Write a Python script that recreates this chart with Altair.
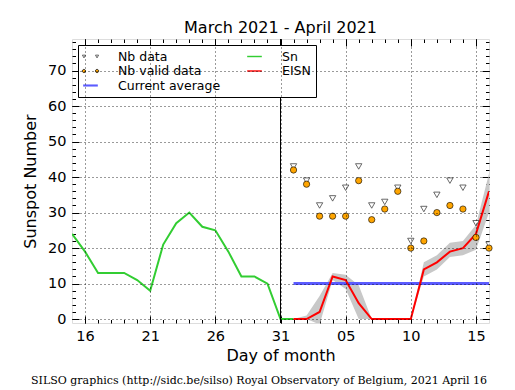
import altair as alt
import pandas as pd

# ---------------- data ----------------
sn_dates = ["2021-03-15", "2021-03-16", "2021-03-17", "2021-03-18", "2021-03-19",
            "2021-03-20", "2021-03-21", "2021-03-22", "2021-03-23", "2021-03-24",
            "2021-03-25", "2021-03-26", "2021-03-27", "2021-03-28", "2021-03-29",
            "2021-03-30", "2021-03-31", "2021-04-01"]
sn_values = [24, 19, 13, 13, 13, 11, 8, 21, 27, 30, 26, 25, 19, 12, 12, 10, 0, 0]

apr_dates = ["2021-04-01", "2021-04-02", "2021-04-03", "2021-04-04", "2021-04-05",
             "2021-04-06", "2021-04-07", "2021-04-08", "2021-04-09", "2021-04-10",
             "2021-04-11", "2021-04-12", "2021-04-13", "2021-04-14", "2021-04-15",
             "2021-04-16"]
eisn_values = [0, 0, 2, 12, 11, 4.5, 0, 0, 0, 0, 14, 16, 19, 20, 24, 36]
eisn_low = [0, 0, -1.5, 11, 8.5, 0, 0, 0, 0, 0, 12, 14, 17.5, 18, 19.5, 30]
eisn_high = [0, 1, 6.5, 13, 12.5, 9.5, 0, 0, 0, 0, 16, 18, 21.5, 22, 26.5, 41]
nb_data = [43, 39, 32, 34, 37, 43, 32, 33, 37, 22, 31, 35, 39, 37, 27, 21]
nb_valid = [42, 38, 29, 29, 29, 39, 28, 31, 36, 20, 22, 30, 32, 31, 23, 20]

avg_dates = ["2021-04-01", "2021-04-16"]
avg_values = [10, 10]

last_obs = ["2021-03-31"]

x_major = [16, 21, 26, 31, 36, 41, 46]
x_minor = list(range(16, 47))
y_major = [0, 10, 20, 30, 40, 50, 60, 70]
y_minor = list(range(0, 79, 2))

# legend entries (filled column by column, 3 rows)
legend_order = ["Nb data", "Nb valid data", "Current average", "Sn", "EISN"]

C_SN = "#32cd32"
C_EISN = "#ff0000"
C_AVG = "#5b5bff"
C_VALID = "orange"
C_TRI = "#444444"

title_text = "March 2021 - April 2021"
footer_text = "SILSO graphics (http://sidc.be/silso) Royal Observatory of Belgium, 2021 April 16"


def day(d):
    return (pd.Timestamp(d) - pd.Timestamp("2021-02-28")).days


sn_df = pd.DataFrame({"day": [day(d) for d in sn_dates], "value": sn_values})
apr_df = pd.DataFrame({
    "day": [day(d) for d in apr_dates],
    "eisn": eisn_values, "lo": eisn_low, "hi": eisn_high,
    "nb": nb_data, "nbv": nb_valid,
})
avg_df = pd.DataFrame({"day": [day(d) for d in avg_dates], "value": avg_values})
obs_df = pd.DataFrame({"day": [day(d) for d in last_obs]})
foot_df = pd.DataFrame({"t": [footer_text]})
legend_df = pd.DataFrame({"series": pd.Series([], dtype=str)})

# ---------------- layout ----------------
W, H = 417, 284
FONT = "DejaVu Sans"

xs = alt.Scale(domain=[15, 47], nice=False, zero=False)
ys = alt.Scale(domain=[-1.1, 78.9], nice=False, zero=False)

label_expr = ("datum.value > 31 ? ((datum.value - 31) < 10 ? '0' + (datum.value - 31) : '' + (datum.value - 31))"
              " : '' + datum.value")

main_x = alt.Axis(orient="bottom", values=x_major, labelExpr=label_expr, ticks=False, tickSize=0,
                  domain=False, grid=True, gridColor="black", gridDash=[1, 3], gridWidth=0.8,
                  labelFont=FONT, labelFontSize=14.5, labelColor="black", labelPadding=6,
                  labelFlush=False, labelOverlap=False,
                  title="Day of month", titleFont=FONT, titleFontSize=16, titleFontWeight="normal",
                  titleColor="black", titlePadding=5, zindex=1)
main_y = alt.Axis(orient="left", values=y_major, ticks=False, tickSize=0, domain=False, grid=True,
                  gridColor="black", gridDash=[1, 3], gridWidth=0.8,
                  labelFont=FONT, labelFontSize=14.5, labelColor="black", labelPadding=6,
                  labelFlush=False, labelOverlap=False,
                  title="Sunspot Number", titleFont=FONT, titleFontSize=16, titleFontWeight="normal",
                  titleColor="black", titlePadding=9, zindex=1)


def tick_axis(orient, values, size, offset):
    return alt.Axis(orient=orient, values=values, ticks=True, tickSize=size, tickColor="black",
                    tickWidth=1, labels=False, domain=False, grid=False, title=None, offset=offset)


# legend symbols: custom paths (unit = half the symbol size)
tri_path = "M-1.35,-0.23L-0.83,-0.23L-1.09,0.23Z M0.83,-0.23L1.35,-0.23L1.09,0.23Z"
circ_path = ("M-1.36,0A0.27,0.27,0,1,0,-0.82,0A0.27,0.27,0,1,0,-1.36,0Z "
             "M0.82,0A0.27,0.27,0,1,0,1.36,0A0.27,0.27,0,1,0,0.82,0Z")
line2_path = "M-1.22,-0.12L1.22,-0.12L1.22,0.12L-1.22,0.12Z"
line3_path = "M-1.22,-0.175L1.22,-0.175L1.22,0.175L-1.22,0.175Z"

leg = alt.Legend(
    orient="none", legendX=6, legendY=6, columns=2, columnPadding=24, rowPadding=1.5,
    padding=5, fillColor="white", strokeColor="black", title=None,
    labelFont=FONT, labelFontSize=12.5, labelColor="black", labelOffset=21, labelLimit=300,
    symbolOffset=1, symbolSize=144, symbolStrokeWidth=0.8, symbolOpacity=1,
)

legend_layer = alt.Chart(legend_df).mark_point(opacity=1, strokeWidth=0.8).encode(
    fill=alt.Fill("series:N", scale=alt.Scale(domain=legend_order,
                                              range=["white", C_VALID, C_AVG, C_SN, C_EISN]), legend=leg),
    stroke=alt.Stroke("series:N", scale=alt.Scale(domain=legend_order,
                                                  range=[C_TRI, "black", "transparent", "transparent", "transparent"]),
                      legend=leg),
    shape=alt.Shape("series:N", scale=alt.Scale(domain=legend_order,
                                                range=[tri_path, circ_path, line3_path, line2_path, line2_path]),
                    legend=leg),
)

band = alt.Chart(apr_df).mark_area(color="#c8c8c8", opacity=1, clip=True).encode(
    x=alt.X("day:Q", scale=xs, axis=main_x),
    y=alt.Y("lo:Q", scale=ys, axis=main_y),
    y2="hi:Q",
)

avg = alt.Chart(avg_df).mark_line(strokeWidth=3, color=C_AVG, clip=True).encode(
    x=alt.X("day:Q", scale=xs, axis=tick_axis("top", x_major, 7, -H)),
    y=alt.Y("value:Q", scale=ys, axis=tick_axis("right", y_major, 7, -W)),
)

sn = alt.Chart(sn_df).mark_line(strokeWidth=2, color=C_SN, clip=True).encode(
    x=alt.X("day:Q", scale=xs, axis=tick_axis("top", x_minor, 3.5, -H)),
    y=alt.Y("value:Q", scale=ys, axis=tick_axis("right", y_minor, 3.5, -W)),
)

eisn = alt.Chart(apr_df).mark_line(strokeWidth=2, color=C_EISN, clip=True).encode(
    x=alt.X("day:Q", scale=xs, axis=tick_axis("bottom", x_major, 7, -H)),
    y=alt.Y("eisn:Q", scale=ys, axis=tick_axis("left", y_major, 7, -W)),
)

vline = alt.Chart(obs_df).mark_rule(color="black", strokeWidth=1).encode(
    x=alt.X("day:Q", scale=xs, axis=None),
)

tri = alt.Chart(apr_df).mark_point(shape="triangle-down", filled=True, fill="white", stroke=C_TRI,
                                   strokeWidth=0.8, size=40, opacity=1, clip=True).encode(
    x=alt.X("day:Q", scale=xs, axis=tick_axis("bottom", x_minor, 3.5, -H)),
    y=alt.Y("nb:Q", scale=ys, axis=tick_axis("left", y_minor, 3.5, -W)),
)

circ = alt.Chart(apr_df).mark_point(shape="circle", filled=True, fill=C_VALID, stroke="black",
                                    strokeWidth=0.6, size=40, opacity=1).encode(
    x=alt.X("day:Q", scale=xs, axis=None),
    y=alt.Y("nbv:Q", scale=ys, axis=None),
)

footer = alt.Chart(foot_df).mark_text(font="DejaVu Serif", fontSize=11, color="black",
                                      align="center", baseline="alphabetic").encode(
    x=alt.value(187), y=alt.value(345), text="t:N",
)

chart = alt.layer(band, avg, sn, eisn, vline, tri, circ, footer, legend_layer).resolve_axis(
    x="independent", y="independent"
).properties(
    width=W, height=H,
    title=alt.TitleParams(title_text, font=FONT, fontSize=16, fontWeight="normal", color="black",
                          offset=3, anchor="middle"),
    autosize=alt.AutoSizeParams(type="none"),
    padding={"left": 64, "top": 31, "right": 18, "bottom": 70},
).configure_view(stroke="black", strokeWidth=1).configure(background="white")

chart.save("out.html", embed_options={"renderer": "svg", "actions": False})
